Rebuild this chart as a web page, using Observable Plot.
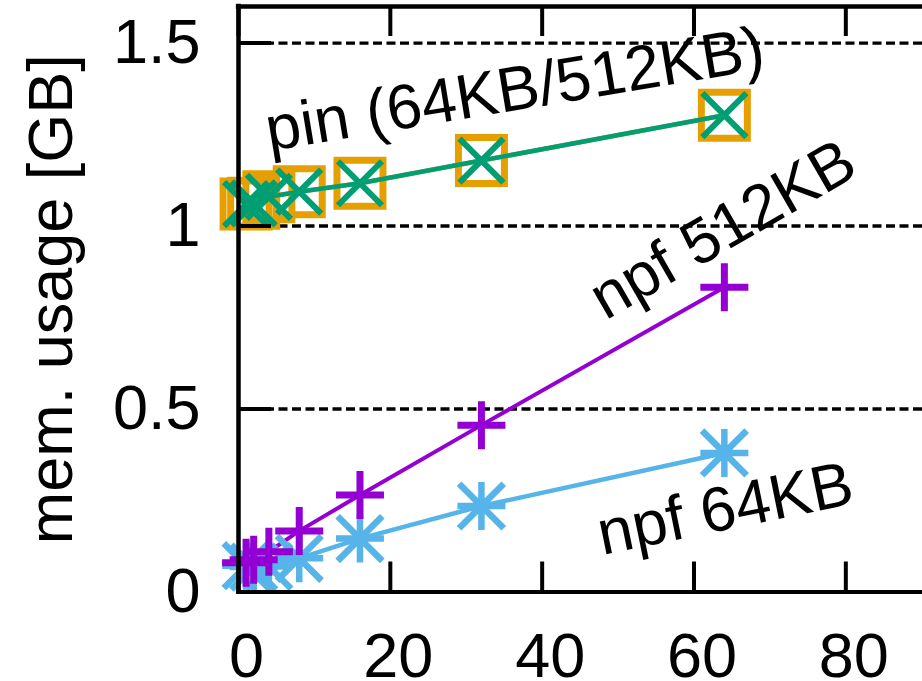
<!DOCTYPE html>
<html><head><meta charset="utf-8">
<script src="https://cdn.jsdelivr.net/npm/d3@7"></script>
<script src="https://cdn.jsdelivr.net/npm/@observablehq/plot@0.6"></script>
<style>
html,body{margin:0;padding:0;background:#fff;overflow:hidden;}
#chart{width:922px;height:681px;overflow:hidden;}
</style></head><body><div id="chart"></div>
<script>
// ---- data ----
const threads   = [1, 2, 4, 8, 16, 32, 64];
const npf512KB  = [0.080, 0.088, 0.110, 0.167, 0.265, 0.456, 0.833];
const npf64KB   = [0.072, 0.068, 0.070, 0.092, 0.146, 0.235, 0.380];
const pin512KB  = [1.060, 1.062, 1.080, 1.094, 1.117, 1.179, 1.303];
const pin64KB   = [1.060, 1.062, 1.080, 1.094, 1.117, 1.179, 1.303];
const xTicks      = [0, 20, 40, 60, 80];
const xTickLabels = ["0", "20", "40", "60", "80"];
const yTicks      = [0, 0.5, 1, 1.5];
const yTickLabels = ["0", "0.5", "1", "1.5"];
const yGrid       = [0.5, 1, 1.5];
const seriesNames = ["pin (64KB/512KB)", "npf 512KB", "npf 64KB"];
const yLabel      = "mem. usage [GB]";

// ---- layout / style ----
const W = 922, H = 681, ML = 238, MR = 0, MT = 6, MB = 89.5;
const FW = W - ML - MR, FH = H - MT - MB;
const FONT = 63;
const C = {npf512: "#9400D3", pin512: "#009E73", npf64: "#56B4E9", pin64: "#E69F00"};

const rows = threads.map((t, i) => ({t, npf512: npf512KB[i], npf64: npf64KB[i], pin512: pin512KB[i], pin64: pin64KB[i]}));
// annotation anchors (data coords) + angle
const annot = [
  {text: seriesNames[0], x: 36.4, y: 1.372, angle: -9.4},
  {text: seriesNames[1], x: 63.8, y: 0.99, angle: -30},
  {text: seriesNames[2], x: 64.1, y: 0.226, angle: -11.5}
];

const rad = s => Math.sqrt(s / Math.PI);
const symSquare = {draw(c, s){ const r = rad(s); c.moveTo(-r,-r); c.lineTo(r,-r); c.lineTo(r,r); c.lineTo(-r,r); c.closePath(); }};
const symTimes  = {draw(c, s){ const r = rad(s); c.moveTo(-r,-r); c.lineTo(r,r); c.moveTo(r,-r); c.lineTo(-r,r); }};
const symPlus   = {draw(c, s){ const r = rad(s); c.moveTo(-r,0); c.lineTo(r,0); c.moveTo(0,-r); c.lineTo(0,r); }};
const symStar   = {draw(c, s){ const r = rad(s); const d = r*0.93; c.moveTo(-r,0); c.lineTo(r,0); c.moveTo(0,-r); c.lineTo(0,r); c.moveTo(-d,-d); c.lineTo(d,d); c.moveTo(d,-d); c.lineTo(-d,d); }};

const chart = Plot.plot({
  width: W, height: H,
  marginLeft: ML, marginRight: MR, marginTop: MT, marginBottom: MB,
  style: {fontFamily: "'Liberation Sans', Arial, sans-serif", background: "white", color: "black"},
  x: {domain: [0, 90.1]},
  y: {domain: [0, 1.6]},
  marks: [
    Plot.ruleY(yGrid, {stroke: "black", strokeWidth: 3.4, strokeDasharray: "9,4.5"}),
    // lines
    Plot.line(rows, {x: "t", y: "pin64", stroke: C.pin64, strokeWidth: 4.5}),
    Plot.line(rows, {x: "t", y: "npf64", stroke: C.npf64, strokeWidth: 4.5}),
    Plot.line(rows, {x: "t", y: "npf512", stroke: C.npf512, strokeWidth: 4}),
    // points
    Plot.dot(rows, {x: "t", y: "pin64", r: 23, symbol: symSquare, fill: "none", stroke: C.pin64, strokeWidth: 7, strokeLinejoin: "miter"}),
    Plot.line(rows, {x: "t", y: "pin512", stroke: C.pin512, strokeWidth: 4.5}),
    Plot.dot(rows, {x: "t", y: "pin512", r: 22, symbol: symTimes, fill: "none", stroke: C.pin512, strokeWidth: 6}),
    Plot.dot(rows, {x: "t", y: "npf64", r: 24, symbol: symStar, fill: "none", stroke: C.npf64, strokeWidth: 6.5}),
    Plot.dot(rows, {x: "t", y: "npf512", r: 24, symbol: symPlus, fill: "none", stroke: C.npf512, strokeWidth: 7}),
    // inward ticks
    Plot.tickX(xTicks, {x: d => d, insetTop: FH - 30, stroke: "black", strokeWidth: 4}),
    Plot.tickX(xTicks, {x: d => d, insetBottom: FH - 30, stroke: "black", strokeWidth: 4}),
    Plot.tickY(yTicks, {y: d => d, insetRight: FW - 33, stroke: "black", strokeWidth: 4}),
    // frame (left, bottom, top)
    Plot.ruleX([0], {stroke: "black", strokeWidth: 4.5, strokeLinecap: "square"}),
    Plot.ruleY([0], {stroke: "black", strokeWidth: 4, strokeLinecap: "square"}),
    Plot.ruleY([1.6], {stroke: "black", strokeWidth: 4.3, strokeLinecap: "square"}),
    // axes labels
    Plot.axisX({ticks: xTicks, tickSize: 0, tickPadding: 40, fontSize: FONT, dx: 8, label: null,
                tickFormat: d => xTickLabels[xTicks.indexOf(d)]}),
    Plot.axisY({ticks: yTicks, tickSize: 0, tickPadding: 38, fontSize: FONT, label: null,
                tickFormat: d => yTickLabels[yTicks.indexOf(d)]}),
    // series annotations
    Plot.text(annot, {x: "x", y: "y", text: "text", rotate: "angle", fontSize: FONT, fill: "black", textAnchor: "middle", lineAnchor: "middle"}),
    // y axis title
    Plot.text([yLabel], {text: d => d, frameAnchor: "left", dx: -186.5, rotate: -90, fontSize: FONT, fill: "black", textAnchor: "middle", lineAnchor: "middle"})
  ]
});
document.getElementById("chart").appendChild(chart);
</script>
</body></html>
